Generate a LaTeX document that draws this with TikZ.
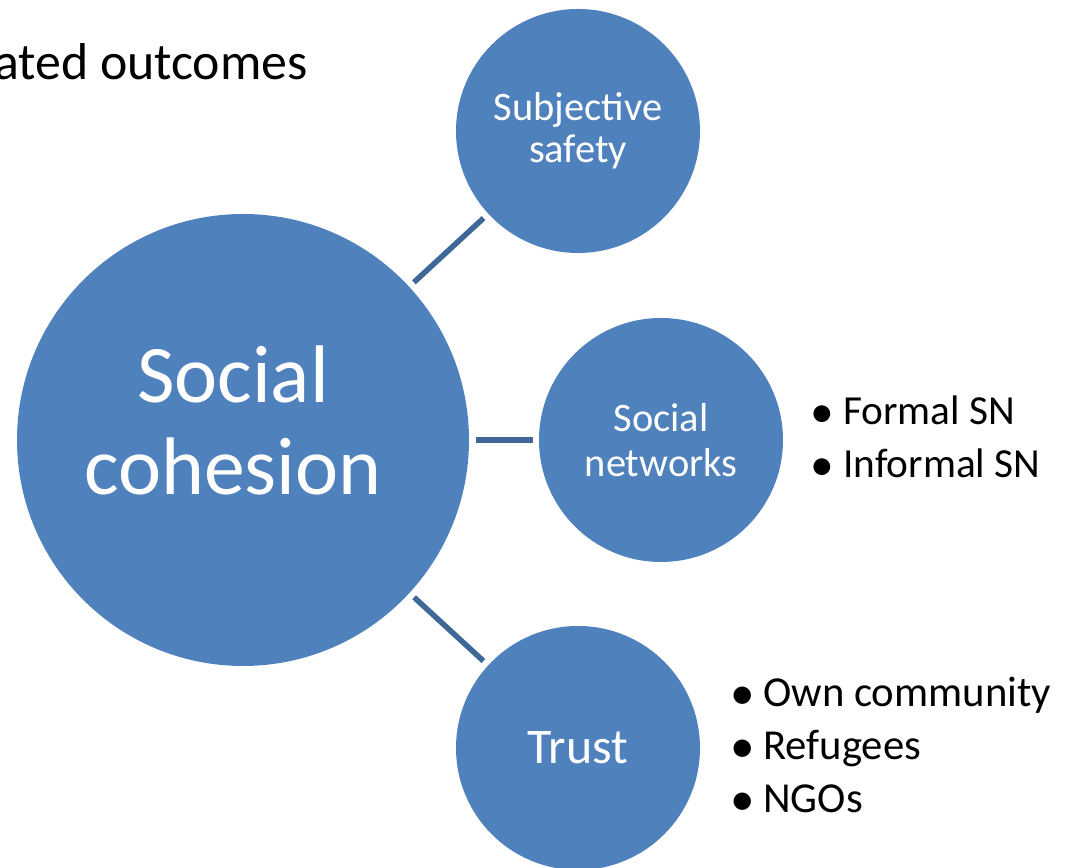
\documentclass[tikz,border=0pt]{standalone}
\usepackage{fontspec}
\setmainfont{Carlito}
\definecolor{circlefill}{HTML}{4F81BD}
\definecolor{linkcolor}{HTML}{3F6898}
\tikzset{
  bigcircle/.style={circle, fill=circlefill, minimum size=9.040000cm, inner sep=0cm, outer sep=0.130000cm},
  smallcircle/.style={circle, fill=circlefill, minimum size=4.880000cm, inner sep=0cm, outer sep=0.130000cm, text=white, align=center},
  connector/.style={draw=linkcolor, line width=0.110000cm},
  listitem/.style={anchor=base west, inner sep=0cm, font=\fontsize{23.5}{28}\selectfont},
}
\newcommand{\bulletitem}[1]{\makebox[0.660000cm][l]{\raisebox{-0.05em}{\scalebox{1.15}{\textbullet}}}#1}
\begin{document}
\begin{tikzpicture}
                \useasboundingbox (0,0) rectangle (21.320000,17.360000);
                
                % Drawing title
                \node [anchor=base east, inner sep=0cm, font=\fontsize{29.5}{34}\selectfont] (title) at (6.160000,15.760000) {ated outcomes};%
                
                % Drawing circle Social cohesion
                \node [bigcircle] (cohesion) at (4.860000,8.560000) {};%
                \node [text=white, align=center, inner sep=0cm, font=\fontsize{46.5}{52}\selectfont] (cohesiontext) at ([xshift=-0.200000cm, yshift=0.390000cm]cohesion.center) {Social\\cohesion};%
                
                % Drawing circle Subjective safety
                \node [smallcircle, font=\fontsize{23}{24}\selectfont] (safety) at (11.560000,14.740000) {Subjective\\safety};%
                
                % Drawing circle Social networks
                \node [smallcircle, font=\fontsize{23}{26}\selectfont] (networks) at (13.220000,8.560000) {Social\\networks};%
                
                % Drawing circle Trust
                \node [smallcircle, font=\fontsize{28.4}{32}\selectfont] (trust) at (11.560000,2.400000) {Trust};%
                
                % Drawing connectors
                \draw [connector] (cohesion) -- (safety);%
                \draw [connector] (cohesion) -- (networks);%
                \draw [connector] (cohesion) -- (trust);%
                
                % Marking items of Social networks
                \node [listitem] (formal) at (16.200000,8.860000) {\bulletitem{Formal SN}};%
                \node [listitem] (informal) at (16.200000,7.800000) {\bulletitem{Informal SN}};%
                
                % Marking items of Trust
                \node [listitem, font=\fontsize{24.3}{28}\selectfont] (community) at (14.600000,3.220000) {\bulletitem{Own community}};%
                \node [listitem, font=\fontsize{24.3}{28}\selectfont] (refugees) at (14.600000,2.160000) {\bulletitem{Refugees}};%
                \node [listitem, font=\fontsize{24.3}{28}\selectfont] (ngos) at (14.600000,1.100000) {\bulletitem{NGOs}};%
            \end{tikzpicture}
\end{document}
